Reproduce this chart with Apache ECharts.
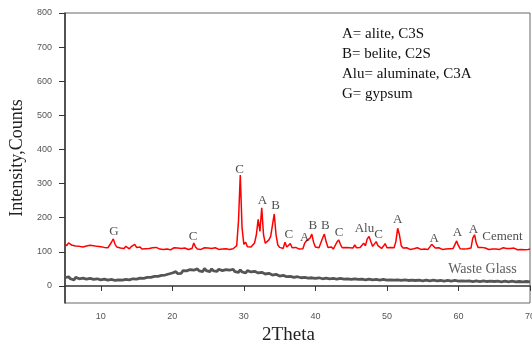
<!DOCTYPE html>
<html>
<head>
<meta charset="utf-8">
<script src="https://cdn.jsdelivr.net/npm/echarts@6/dist/echarts.min.js"></script>
<style>
  html, body { margin: 0; padding: 0; background: #fff; }
  #chart { width: 532px; height: 343px; }
</style>
</head>
<body>
<div id="chart"></div>
<script>
// 2Theta scan, 5..70 deg at 0.25 deg steps
const thetaStart = 5
const thetaStep = 0.25

// one row per degree: x.00, x.25, x.50, x.75
const cement = [
  124,118,126,121, 119,123,117,121, 116,120,114,119, 117,113,119,115, 118,114,116,112, // 5-9
  115,119,113,116, 112,117,128,138, 122,114,117,111, 114,110,116,112, 109,115,111,122, // 10-14
  113,110,114,108, 112,109,113,110, 107,112,109,113, 110,108,112,107, 111,108,110,106, // 15-19
  109,112,107,111, 108,110,106,111, 109,107,112,110, 126,114,108,111, 107,110,112,108, // 20-24
  111,107,110,108, 112,109,107,111, 108,112,109,110, 107,111,109,113, 118,190,325,170, // 25-29
  122,128,115,118, 114,120,126,150, 195,160,229,150, 125,122,135,145, 140,211,150,120, // 30-34
  113,117,110,128, 114,111,124,112, 109,113,110,108, 112,109,125,132, 128,140,152,128, // 35-39
  114,110,112,116, 140,152,130,113, 110,114,108,111, 128,135,122,112, 109,113,110,112, // 40-44
  108,111,120,112, 109,113,111,125, 118,138,145,130, 116,112,130,118, 113,110,116,124, // 45-49
  112,110,113,109, 112,130,169,150, 118,111,108,112, 110,107,111,109, 108,112,109,107, // 50-54
  111,108,110,107, 112,122,120,111, 108,112,109,107, 111,108,112,109, 107,110,113,132, // 55-59
  118,109,111,108, 112,109,107,111, 140,150,125,113, 110,113,108,111, 109,107,112,108, // 60-64
  110,108,111,107, 109,112,108,110, 107,110,108,111, 108,106,110,107, 109,106,108,107, // 65-69
  108
]

const wasteGlass = [
  24,19,27,21, 22,18,25,20, 21,17,23,19, 20,16,22,17, 19,15,21,17, // 5-9
  18,14,20,16, 17,13,19,15, 16,13,18,14, 17,14,19,15, 18,15,21,17, // 10-14
  20,16,23,19, 22,18,25,21, 25,21,28,23, 28,24,31,27, 32,27,35,30, // 15-19
  38,33,42,36, 41,37,45,40, 44,40,48,43, 46,42,50,44, 47,42,51,45, // 20-24
  46,42,50,44, 47,43,49,44, 45,41,48,43, 46,41,49,42, 44,40,47,41, // 25-29
  43,38,45,40, 41,37,43,38, 38,34,40,35, 35,31,37,32, 32,28,34,29, // 30-34
  29,25,31,26, 27,23,28,24, 25,21,27,22, 24,20,25,21, 23,19,24,20, // 35-39
  22,18,24,19, 21,18,23,19, 21,17,22,18, 20,17,22,18, 20,16,21,18, // 40-44
  19,16,21,17, 19,15,20,17, 18,15,20,16, 18,15,19,16, 17,14,19,16, // 45-49
  17,14,18,15, 17,14,18,15, 16,13,18,15, 16,13,17,14, 16,12,17,14, // 50-54
  15,13,17,14, 15,12,17,13, 15,12,16,13, 14,12,16,13, 14,11,16,13, // 55-59
  14,11,15,12, 14,11,15,12, 13,11,15,12, 13,10,15,12, 13,10,14,12, // 60-64
  13,10,14,11, 12,10,14,11, 12,9,14,11, 12,9,13,11, 12,9,13,11,     // 65-69
  12
]

// peak labels: [text, 2theta, y]
const peakLabels = [
  ['G', 11.85, 158], ['C', 22.9, 145], ['C', 29.4, 340], ['A', 32.6, 250],
  ['B', 34.45, 235], ['C', 36.3, 150], ['A', 38.5, 143], ['B', 39.65, 177],
  ['B', 41.4, 177], ['C', 43.3, 157], ['Alu', 46.85, 169], ['C', 48.85, 150],
  ['A', 51.5, 194], ['A', 56.6, 140], ['A', 59.87, 155], ['A', 62.1, 166],
  ['Cement', 66.15, 145]
]
const glassLabel = ['Waste Glass', 63.35, 49]

const legendLines = ['A= alite, C3S', 'B= belite, C2S', 'Alu= aluminate, C3A', 'G= gypsum']

const xTicks = [10, 20, 30, 40, 50, 60, 70]
const yTicks = [0, 100, 200, 300, 400, 500, 600, 700, 800]

const toPairs = arr => arr.map((v, i) => [thetaStart + i * thetaStep, v])

const serif = 'Liberation Serif'
const chart = echarts.init(document.getElementById('chart'))
chart.setOption({
  backgroundColor: '#fff',
  animation: false,
  grid: {
    left: 65, right: 2, top: 13, bottom: 40,
    outerBoundsMode: 'none',
    show: true, borderColor: '#666', borderWidth: 1
  },
  xAxis: {
    type: 'value',
    min: 5, max: 70,
    name: '2Theta',
    nameLocation: 'middle',
    nameGap: 20,
    nameTextStyle: { fontFamily: serif, fontSize: 19, color: '#222', padding: [0, 18, 0, 0] },
    axisLine: { lineStyle: { color: '#333', width: 1.5 } },
    axisTick: { show: true, length: 5, customValues: xTicks, lineStyle: { color: '#333' } },
    axisLabel: { customValues: xTicks, margin: 9, fontSize: 9, color: '#555', fontFamily: 'Liberation Sans' },
    splitLine: { show: false }
  },
  yAxis: {
    type: 'value',
    min: -50, max: 800,
    name: 'Intensity,Counts',
    nameLocation: 'middle',
    nameGap: 38,
    nameTextStyle: { fontFamily: serif, fontSize: 18, color: '#222' },
    axisLine: { show: true, lineStyle: { color: '#333', width: 1.5 } },
    axisTick: { show: true, length: 6, customValues: yTicks, lineStyle: { color: '#333' } },
    axisLabel: { customValues: yTicks, margin: 13, fontSize: 9, color: '#555', fontFamily: 'Liberation Sans' },
    splitLine: { show: false }
  },
  graphic: [{
    type: 'text',
    left: 342, top: 24,
    style: {
      text: legendLines.join('\n'),
      font: '15px "Liberation Serif"',
      lineHeight: 20,
      fill: '#111'
    }
  }],
  series: [
    {
      name: 'Waste Glass',
      type: 'line',
      data: toPairs(wasteGlass),
      showSymbol: false,
      lineStyle: { color: '#555', width: 2.8 }
    },
    {
      name: 'Cement',
      type: 'line',
      data: toPairs(cement),
      showSymbol: false,
      lineStyle: { color: '#ff0000', width: 1.5 }
    },
    {
      type: 'scatter',
      symbolSize: 0,
      data: peakLabels.map(p => ({ name: p[0], value: [p[1], p[2]] }))
        .concat([{
          name: glassLabel[0], value: [glassLabel[1], glassLabel[2]],
          label: { fontSize: 14, color: '#333' }
        }]),
      label: {
        show: true,
        position: 'inside',
        formatter: '{b}',
        fontFamily: serif,
        fontSize: 13,
        color: '#222'
      },
      z: 5
    }
  ]
})
</script>
</body>
</html>
